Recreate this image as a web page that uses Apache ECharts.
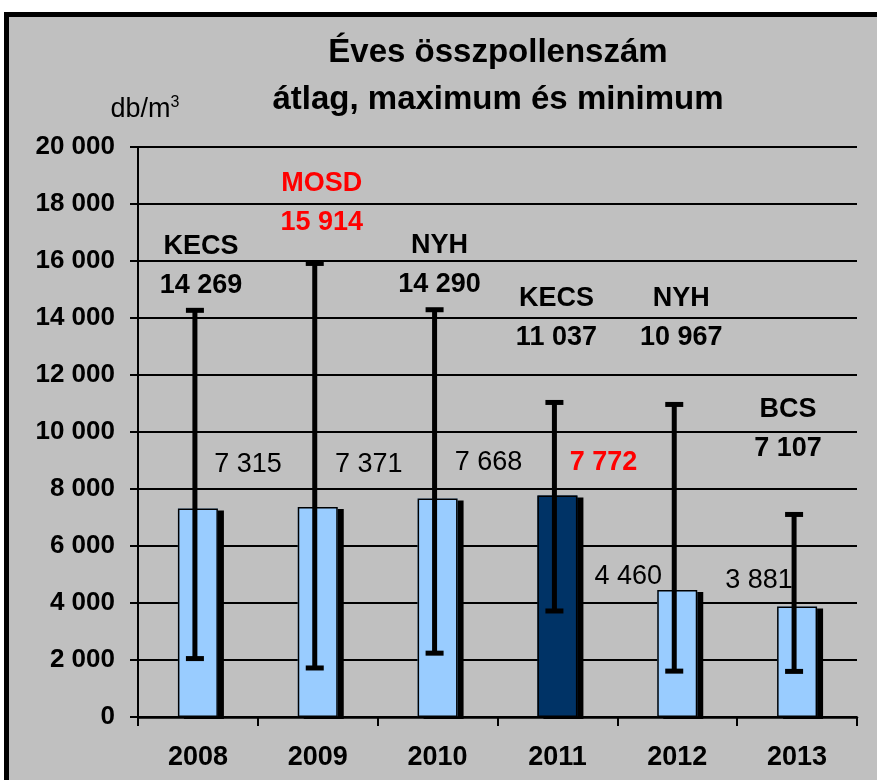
<!DOCTYPE html>
<html>
<head>
<meta charset="utf-8">
<script src="https://cdn.jsdelivr.net/npm/echarts@6/dist/echarts.min.js"></script>
<style>
  html, body { margin: 0; padding: 0; background: #fff; }
  #frame {
    position: absolute; left: 4px; top: 12px; width: 900px; height: 800px;
    background: #c0c0c0; border: 5px solid #000; box-sizing: border-box;
  }
  #chart { position: absolute; left: 0; top: 0; width: 877px; height: 780px; }
</style>
</head>
<body>
<div id="frame"></div>
<div id="chart"></div>
<script>
// chart data
const years = ['2008', '2009', '2010', '2011', '2012', '2013']
const means = [7315, 7371, 7668, 7772, 4460, 3881]
const maxima = [14269, 15914, 14290, 11037, 10967, 7107]
const minima = [2050, 1720, 2240, 3720, 1610, 1600]
const maxStations = ['KECS', 'MOSD', 'NYH', 'KECS', 'NYH', 'BCS']
const yMin = 0
const yMax = 20000
const yStep = 2000

// label nudges in px (the labels were hand placed in the original)
const meanNudge = [[50, -44], [51, -42], [51, -36], [46, -33], [-49, -13], [-38, -26]]
const maxNudge = [[3, -25], [4, -41], [2, -25], [-1, -65], [4, -67], [-9, -66]]

const FONT = '"Liberation Sans", Arial, sans-serif'
const fmt = v => String(v).replace(/\B(?=(\d{3})+(?!\d))/g, ' ')
const topMean = Math.max(...means)
const topMax = Math.max(...maxima)

const chart = echarts.init(document.getElementById('chart'))

chart.setOption({
  animation: false,
  title: {
    text: 'Éves összpollenszám\nátlag, maximum és minimum',
    left: 493,
    top: 24,
    textAlign: 'center',
    textStyle: { fontFamily: FONT, fontSize: 33, fontWeight: 'bold', color: '#000', lineHeight: 47 }
  },
  graphic: [{
    type: 'text',
    x: 145, y: 110,
    style: {
      text: '{a|db/m}{b|3}',
      align: 'center', verticalAlign: 'middle',
      rich: {
        a: { fontFamily: FONT, fontSize: 27, fill: '#000' },
        b: { fontFamily: FONT, fontSize: 16, fill: '#000', padding: [0, 0, 14, 0] }
      }
    }
  }],
  grid: { left: 138, right: 20, top: 147, bottom: 63 },
  xAxis: {
    type: 'category',
    data: years,
    z: 4,
    axisLine: { lineStyle: { color: '#000', width: 2.5 } },
    axisTick: { show: true, length: 9, lineStyle: { color: '#000', width: 2 } },
    axisLabel: { margin: 27, fontFamily: FONT, fontSize: 27, fontWeight: 'bold', color: '#000' }
  },
  yAxis: {
    type: 'value',
    min: yMin, max: yMax, interval: yStep,
    axisLine: { show: true, lineStyle: { color: '#000', width: 2 } },
    axisTick: { show: true, length: 8, lineStyle: { color: '#000', width: 2 } },
    splitLine: { lineStyle: { color: '#000', width: 2 } },
    axisLabel: { margin: 23, fontFamily: FONT, fontSize: 26, fontWeight: 'bold', color: '#000', formatter: fmt }
  },
  series: [
    {
      // filled bars with a hard black drop shadow
      type: 'bar',
      barWidth: 40,
      z: 2,
      data: means.map(v => ({
        value: v,
        itemStyle: { color: v === topMean ? '#003366' : '#99ccff' }
      })),
      itemStyle: {
        borderWidth: 0,
        shadowColor: '#000', shadowBlur: 0, shadowOffsetX: 6, shadowOffsetY: 2
      }
    },
    {
      // outline drawn over the same bars
      type: 'bar',
      barWidth: 40,
      barGap: '-100%',
      z: 3,
      data: means,
      itemStyle: { color: 'rgba(0,0,0,0)', borderColor: '#000', borderWidth: 1.5 }
    },
    {
      type: 'custom',
      clip: false,
      z: 5,
      data: years.map((y, i) => [i, minima[i], maxima[i], means[i]]),
      encode: { x: 0, y: [1, 2] },
      renderItem(params, api) {
        const i = params.dataIndex
        const hi = api.coord([i, api.value(2)])
        const lo = api.coord([i, api.value(1)])
        const mid = api.coord([i, api.value(3)])
        const x = hi[0] - 3
        const line = { stroke: '#000', lineWidth: 5 }
        const maxRed = maxima[i] === topMax
        const meanRed = means[i] === topMean
        const mx = hi[0] + maxNudge[i][0]
        const my = hi[1] + maxNudge[i][1]
        return {
          type: 'group',
          children: [
            { type: 'line', shape: { x1: x, y1: hi[1], x2: x, y2: lo[1] }, style: line },
            { type: 'line', shape: { x1: x - 9, y1: hi[1], x2: x + 9, y2: hi[1] }, style: line },
            { type: 'line', shape: { x1: x - 9, y1: lo[1], x2: x + 9, y2: lo[1] }, style: line },
            {
              type: 'text',
              style: {
                text: maxStations[i], x: mx, y: my - 39,
                align: 'center', verticalAlign: 'middle',
                fontFamily: FONT, fontSize: 27, fontWeight: 'bold',
                fill: maxRed ? '#ff0000' : '#000'
              }
            },
            {
              type: 'text',
              style: {
                text: fmt(maxima[i]), x: mx, y: my,
                align: 'center', verticalAlign: 'middle',
                fontFamily: FONT, fontSize: 27, fontWeight: 'bold',
                fill: maxRed ? '#ff0000' : '#000'
              }
            },
            {
              type: 'text',
              style: {
                text: fmt(means[i]),
                x: mid[0] + meanNudge[i][0], y: mid[1] + meanNudge[i][1],
                align: 'center', verticalAlign: 'middle',
                fontFamily: FONT, fontSize: 27,
                fontWeight: meanRed ? 'bold' : 'normal',
                fill: meanRed ? '#ff0000' : '#000'
              }
            }
          ]
        }
      }
    }
  ]
})
</script>
</body>
</html>
